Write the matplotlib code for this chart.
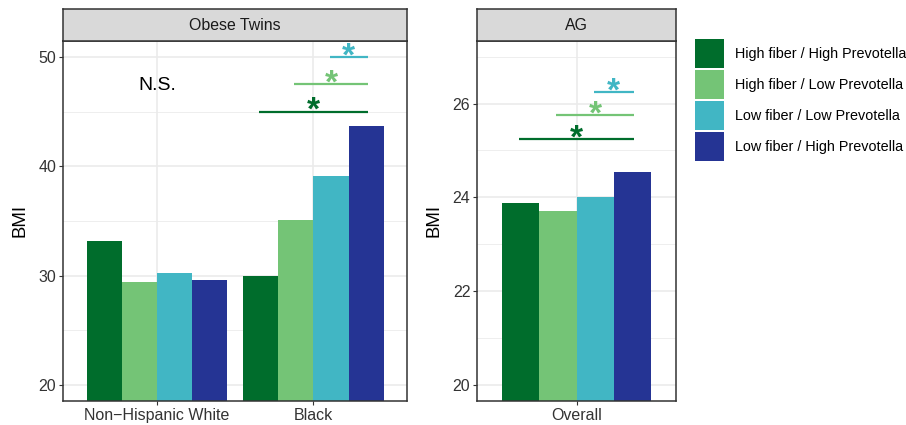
import matplotlib
matplotlib.use("Agg")
import matplotlib.pyplot as plt
from matplotlib.patches import Patch
import numpy as np

plt.rcParams['font.family'] = ['Liberation Sans', 'DejaVu Sans']

groups = ["High fiber / High Prevotella", "High fiber / Low Prevotella",
          "Low fiber / Low Prevotella", "Low fiber / High Prevotella"]
colors = ["#006d2c", "#74c476", "#41b6c4", "#253494"]

twins_categories = ["Non\u2212Hispanic White", "Black"]
twins_bmi = {
    "High fiber / High Prevotella": [33.17, 29.97],
    "High fiber / Low Prevotella": [29.42, 35.10],
    "Low fiber / Low Prevotella": [30.25, 39.12],
    "Low fiber / High Prevotella": [29.60, 43.70],
}
ag_categories = ["Overall"]
ag_bmi = {
    "High fiber / High Prevotella": [23.88],
    "High fiber / Low Prevotella": [23.71],
    "Low fiber / Low Prevotella": [24.01],
    "Low fiber / High Prevotella": [24.54],
}
twins_sig_y = [45.0, 47.5, 50.0]
ag_sig_y = [25.25, 25.75, 26.25]

W, H = 906, 425
fig = plt.figure(figsize=(W / 100, H / 100), dpi=100)

def fx(px):
    return px / W

def fy(py):
    return 1 - py / H

panel_top, panel_bot, strip_top = 40.7, 400.7, 9.3
dodge = 0.9
bw = dodge / 4
offsets = [(-1.5 + i) * bw for i in range(4)]

def make_panel(x0, x1, title, cats, data, ylim, major, minor, sig_cat, sig_y, ns_text=None):
    ax = fig.add_axes([fx(x0), fy(panel_bot), fx(x1 - x0), (panel_bot - panel_top) / H])
    xs = np.arange(1, len(cats) + 1)
    for i, g in enumerate(groups):
        ax.bar(xs + offsets[i], data[g], width=bw, color=colors[i], bottom=0, zorder=3)
    ax.set_xlim(0.4, len(cats) + 0.6)
    ax.set_ylim(*ylim)
    ax.set_yticks(major)
    ax.set_yticks(minor, minor=True)
    ax.set_xticks(xs)
    ax.set_xticklabels(cats)
    ax.grid(True, which='major', color='#ebebeb', lw=1.2, zorder=0)
    ax.grid(True, which='minor', axis='y', color='#ebebeb', lw=0.6, zorder=0)
    ax.set_axisbelow(True)
    for s in ax.spines.values():
        s.set_color('#333333')
        s.set_linewidth(1.1)
        s.set_zorder(5)
    ax.tick_params(which='major', length=3, width=0.8, color='#333333',
                   labelsize=11.5, labelcolor='#333333', pad=2)
    ax.tick_params(which='minor', length=0)
    ax.set_ylabel("BMI", fontsize=13.4, color='black')
    ax.yaxis.label.set_va('center')
    ax.yaxis.label.set_ha('center')
    # significance bars
    xc = sig_cat
    end = xc + offsets[3]
    for k in range(3):
        start = xc + offsets[k]
        ax.plot([start - 0.01, end + 0.01], [sig_y[k]] * 2, color=colors[k], lw=1.6,
                solid_capstyle='butt', zorder=4, clip_on=False)
        ax.annotate("*", xy=((start + end) / 2, sig_y[k]), xytext=(0, -6.0),
                    textcoords='offset points', ha='center', va='baseline',
                    fontsize=24, fontweight='bold', color=colors[k], zorder=4)
    if ns_text:
        ax.text(1, 47.35, ns_text, ha='center', va='center', fontsize=14, color='black')
    # strip
    sax = fig.add_axes([fx(x0), fy(panel_top), fx(x1 - x0), (panel_top - strip_top) / H])
    sax.set_facecolor('#d9d9d9')
    sax.set_xticks([])
    sax.set_yticks([])
    for s in sax.spines.values():
        s.set_color('#333333')
        s.set_linewidth(1.1)
    sax.text(0.5, 0.5, title, ha='center', va='center', fontsize=11.4, color='#1a1a1a',
             transform=sax.transAxes)
    return ax

ax1 = make_panel(63.3, 407.3, "Obese Twins", twins_categories, twins_bmi,
                 (18.56, 51.49), [20, 30, 40, 50], [25, 35, 45], 2, twins_sig_y, "N.S.")
ax1.yaxis.set_label_coords((20 - 63.3) / 344, 0.5)
ax2 = make_panel(477.3, 676, "AG", ag_categories, ag_bmi,
                 (19.665, 27.34), [20, 22, 24, 26], [21, 23, 25, 27], 1, ag_sig_y)
ax2.yaxis.set_label_coords((434 - 477.3) / 198.7, 0.5)

handles = [Patch(facecolor=c, edgecolor='none') for c in colors]
leg = fig.legend(handles, groups, loc='upper left', bbox_to_anchor=(fx(695), fy(39)),
                 frameon=False, fontsize=10.4, handlelength=2.0, handleheight=2.72,
                 labelspacing=0.14, handletextpad=0.76, borderpad=0, borderaxespad=0)

fig.savefig("out.png", dpi=100)
